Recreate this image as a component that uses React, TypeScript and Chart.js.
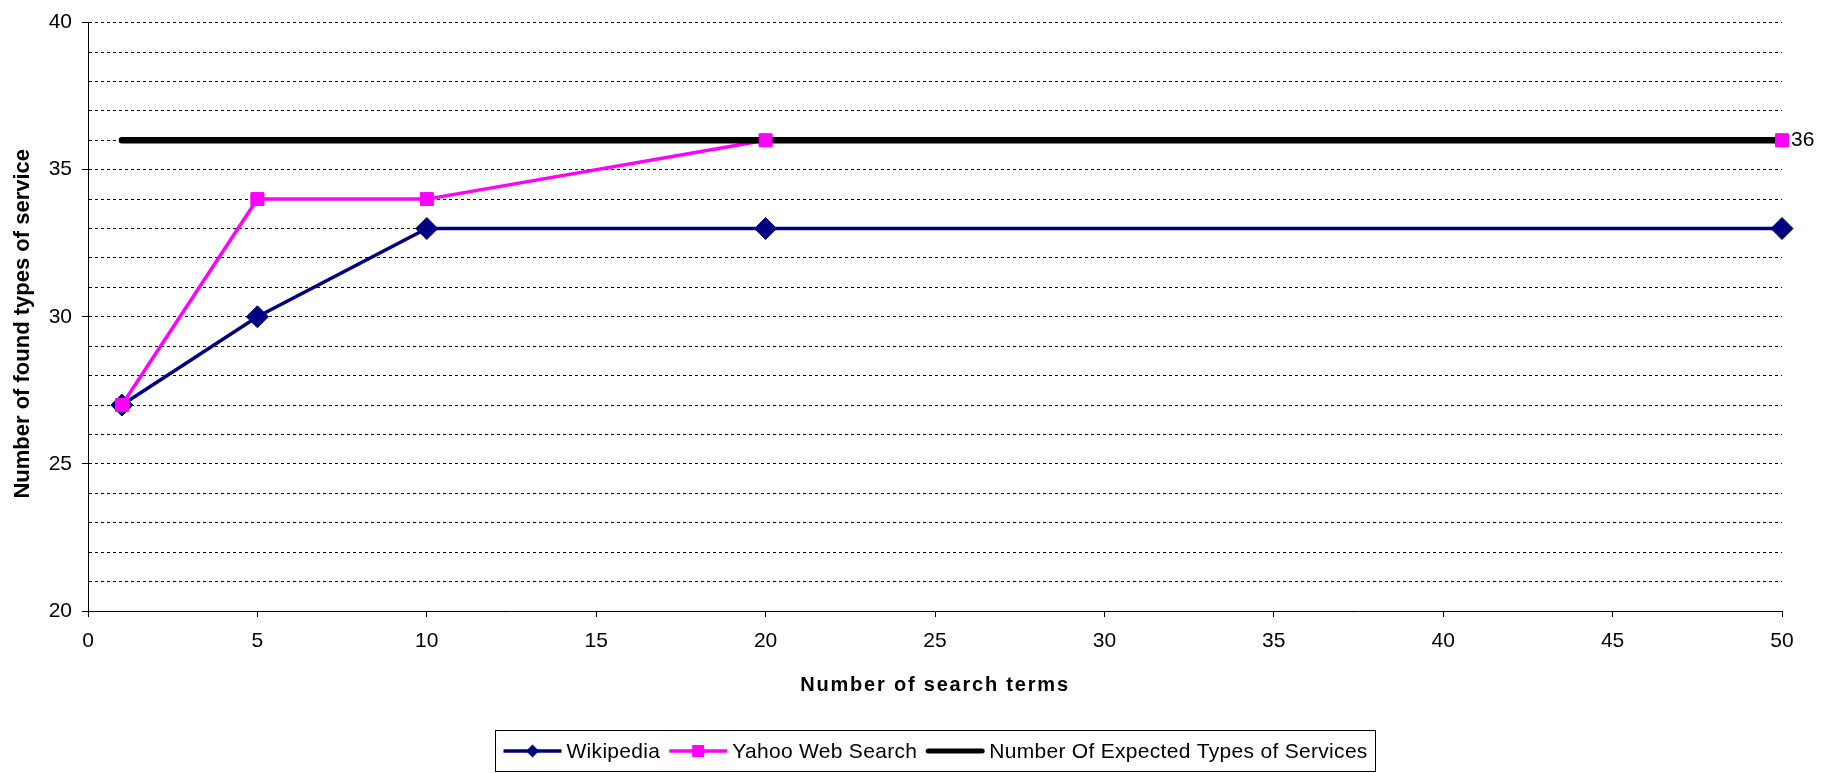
import React, { useEffect, useRef } from 'react';
import { Chart, registerables } from 'chart.js';

Chart.register(...registerables);

const FONT = '"Liberation Sans", Arial, Helvetica, sans-serif';

// ---- data ----
const searchTerms = [1, 5, 10, 20, 50];
const wikipedia = [27, 30, 33, 33, 33];
const yahoo = [27, 34, 34, 36, 36];
const expected = [36, 36, 36, 36, 36];
const seriesNames = ['Wikipedia', 'Yahoo Web Search', 'Number Of Expected Types of Services'];
const seriesColors = ['#000080', '#FF00FF', '#000000'];
const xTitle = 'Number of search terms';
const yTitle = 'Number of found types of service';
const xRange = [0, 50];
const yRange = [20, 40];

const pts = (ys: number[]) => searchTerms.map((x, i) => ({ x, y: ys[i] }));

const setSpacing = (ctx: any, v: string) => {
  try { ctx.letterSpacing = v; } catch (e) { /* ignore */ }
};

const decorPlugin = {
  id: 'decor',
  afterDatasetsDraw(chart: any) {
    const ctx = chart.ctx;
    const area = chart.chartArea;
    // redraw Yahoo markers over the expected line
    const meta = chart.getDatasetMeta(1);
    meta.data.forEach((el: any) => el.draw(ctx, area));
    // end label
    const last = meta.data[meta.data.length - 1];
    ctx.save();
    ctx.font = `21px ${FONT}`;
    ctx.fillStyle = '#000';
    ctx.textAlign = 'left';
    ctx.textBaseline = 'middle';
    ctx.fillText(String(yahoo[yahoo.length - 1]), last.x + 9, last.y);
    ctx.restore();
  },
  afterDraw(chart: any) {
    const ctx = chart.ctx;
    const area = chart.chartArea;
    const cx = (area.left + area.right) / 2;
    ctx.save();
    // x title
    ctx.fillStyle = '#000';
    ctx.font = `bold 20px ${FONT}`;
    ctx.textAlign = 'center';
    ctx.textBaseline = 'middle';
    setSpacing(ctx, '1.8px');
    ctx.fillText(xTitle, cx, area.bottom + 74);
    setSpacing(ctx, '0px');
    // y title
    ctx.save();
    ctx.font = `bold 22px ${FONT}`;
    ctx.translate(23, (area.top + area.bottom) / 2 + 7);
    ctx.rotate(-Math.PI / 2);
    ctx.fillText(yTitle, 0, 0);
    ctx.restore();

    // legend
    ctx.font = `21px ${FONT}`;
    setSpacing(ctx, '0.3px');
    const lineLen = 58;
    const textGap = 5;
    const itemGap = 9;
    const padX = 8;
    const widths = seriesNames.map((n) => ctx.measureText(n).width);
    const total = widths.reduce((a, w) => a + lineLen + textGap + w, 0) + itemGap * (seriesNames.length - 1);
    const boxW = Math.round(total + padX * 2);
    const boxLeft = Math.round(cx - boxW / 2) + 0.5;
    const boxTop = 730.5;
    const boxH = 41;
    ctx.fillStyle = '#fff';
    ctx.fillRect(boxLeft, boxTop, boxW, boxH);
    ctx.strokeStyle = '#000';
    ctx.lineWidth = 1;
    ctx.strokeRect(boxLeft, boxTop, boxW, boxH);
    const cy = boxTop + boxH / 2;
    let x = boxLeft + padX;
    seriesNames.forEach((name, i) => {
      const col = seriesColors[i];
      ctx.strokeStyle = col;
      ctx.lineWidth = i === 2 ? 5 : 3.5;
      ctx.lineCap = i === 2 ? 'round' : 'butt';
      ctx.beginPath();
      ctx.moveTo(x + (i === 2 ? 2 : 0), cy);
      ctx.lineTo(x + lineLen - (i === 2 ? 2 : 0), cy);
      ctx.stroke();
      const mx = x + lineLen / 2;
      ctx.fillStyle = col;
      if (i === 0) {
        const r = 6.5;
        ctx.beginPath();
        ctx.moveTo(mx, cy - r);
        ctx.lineTo(mx + r, cy);
        ctx.lineTo(mx, cy + r);
        ctx.lineTo(mx - r, cy);
        ctx.closePath();
        ctx.fill();
      } else if (i === 1) {
        const s = 6;
        ctx.fillRect(mx - s, cy - s, 2 * s, 2 * s);
      }
      ctx.fillStyle = '#000';
      ctx.textAlign = 'left';
      ctx.textBaseline = 'middle';
      ctx.fillText(name, x + lineLen + textGap, cy + 1);
      x += lineLen + textGap + widths[i] + itemGap;
    });
    setSpacing(ctx, '0px');
    ctx.restore();
  },
};

export default function App() {
  const ref = useRef<HTMLCanvasElement | null>(null);
  useEffect(() => {
    if (!ref.current) return;
    const chart = new Chart(ref.current, {
      type: 'line',
      data: {
        datasets: [
          {
            label: seriesNames[0],
            data: pts(wikipedia),
            borderColor: seriesColors[0],
            backgroundColor: seriesColors[0],
            borderWidth: 3.5,
            pointStyle: 'rectRot',
            pointRadius: 11,
            pointBorderWidth: 1,
            pointBorderColor: seriesColors[0],
            pointBackgroundColor: seriesColors[0],
            clip: false,
            order: 3,
          },
          {
            label: seriesNames[1],
            data: pts(yahoo),
            borderColor: seriesColors[1],
            backgroundColor: seriesColors[1],
            borderWidth: 3.5,
            pointStyle: 'rect',
            pointRadius: 9,
            pointBorderWidth: 1,
            pointBorderColor: seriesColors[1],
            pointBackgroundColor: seriesColors[1],
            clip: false,
            order: 2,
          },
          {
            label: seriesNames[2],
            data: pts(expected),
            borderColor: seriesColors[2],
            backgroundColor: seriesColors[2],
            borderWidth: 6.5,
            borderCapStyle: 'round',
            pointRadius: 0,
            clip: false,
            order: 1,
          },
        ],
      } as any,
      options: {
        animation: false,
        responsive: true,
        maintainAspectRatio: false,
        devicePixelRatio: 1,
        layout: { padding: { left: 0, right: 53, top: 18, bottom: 0 } },
        plugins: { legend: { display: false }, tooltip: { enabled: false } },
        scales: {
          x: {
            type: 'linear',
            min: xRange[0],
            max: xRange[1],
            ticks: { stepSize: 5, color: '#000', font: { family: FONT, size: 21 }, padding: 12, maxRotation: 0 },
            grid: { drawOnChartArea: false, drawTicks: true, tickLength: 6, tickColor: '#000' },
            border: { color: '#000', width: 1 },
            afterFit: (s: any) => { s.height = 162; },
          },
          y: {
            type: 'linear',
            min: yRange[0],
            max: yRange[1],
            ticks: {
              stepSize: 1,
              color: '#000',
              font: { family: FONT, size: 21 },
              padding: 10,
              autoSkip: false,
              callback: (v: any) => (Number(v) % 5 === 0 ? String(v) : ''),
            },
            grid: {
              color: (c: any) => (c.tick && c.tick.value === yRange[0] ? 'rgba(0,0,0,0)' : '#000'),
              lineWidth: 1,
              drawTicks: true,
              tickLength: 6,
              tickColor: (c: any) => (c.tick && c.tick.value % 5 === 0 ? '#000' : 'rgba(0,0,0,0)'),
            },
            border: { color: '#000', width: 1, dash: [3, 3] },
            afterFit: (s: any) => { s.width = 88; },
          },
        },
      } as any,
      plugins: [decorPlugin],
    });
    return () => chart.destroy();
  }, []);
  return (
    <div style={{ position: 'fixed', left: 0, top: 0, width: 1835, height: 773, background: '#fff' }}>
      <canvas ref={ref} />
    </div>
  );
}
